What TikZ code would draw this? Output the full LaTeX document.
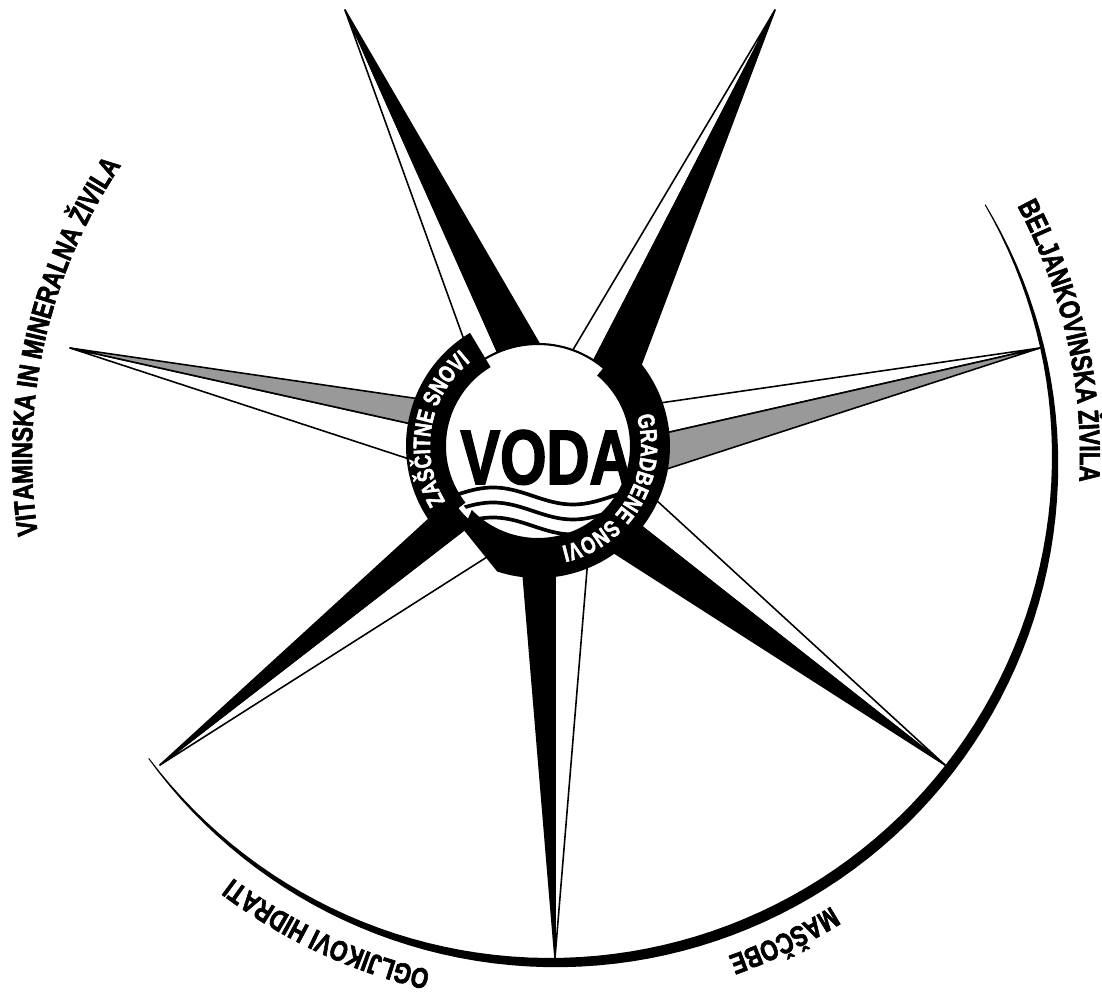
\documentclass[tikz,border=0pt]{standalone}
\usepackage{fontspec}
\newfontfamily\condfont[FakeStretch=0.78,FakeBold=2]{Liberation Sans Bold}
\newfontfamily\vodafont[FakeStretch=0.77,FakeBold=2]{Liberation Sans Bold}
\usetikzlibrary{calc,decorations.text}

\begin{document}
\begin{tikzpicture}[
    rayline/.style={draw=black, line width=0.9pt, line join=round},
    ringtext/.style={decorate, decoration={text along path, text align=center,
        text={|\condfont\fontsize{13.5}{14}\selectfont\color{white}|#1}}},
    outertext/.style={decorate, decoration={text along path, text align=center,
        text={|\condfont\fontsize{16.4}{17}\selectfont|#1}}},
    wave/.style={line width=2.1pt}
]
\useasboundingbox (-10.76,-10.98) rectangle (11.28,8.92);
\coordinate (O) at (0,0);
\coordinate (M) at (0.24,-0.20); % centre of the outer arc

% rays: tip / filled base / axis base / open base / colour
\foreach \tx/\ty/\fx/\fy/\ax/\ay/\wx/\wy/\col in {
    -3.86/8.72/-0.10/2.26/-0.96/2.22/-1.50/2.18/black,
    4.74/8.72/2.30/2.26/1.40/2.26/0.90/2.26/black,
    -9.36/1.96/-2.50/0.96/-2.62/0.46/-2.70/-0.22/gray!80,
    10.04/1.96/2.70/-0.42/2.64/0.28/2.44/0.86/gray!80,
    -7.56/-6.38/-2.42/-1.68/-1.56/-1.74/-1.02/-2.22/black,
    8.14/-6.38/1.84/-2.34/2.24/-1.74/2.58/-1.28/black,
    0.34/-10.24/-0.30/-2.54/0.34/-2.54/0.98/-2.48/black}{
  \coordinate (T) at (\tx,\ty);
  \coordinate (F) at (\fx,\fy);
  \coordinate (A) at (\ax,\ay);
  \coordinate (W) at (\wx,\wy);
  \filldraw[fill=white, rayline] (T) -- ($(T)!1.25!(W)$) -- ($(T)!1.25!(A)$) -- cycle;
  \filldraw[fill=\col, rayline] (T) -- ($(T)!1.25!(F)$) -- ($(T)!1.25!(A)$) -- cycle;
}

% outer arc, thick at the bottom
\fill plot[domain=30:-143, samples=90]
    ({0.24+(10.06+0.2*sin((30-\x)*1.0405))*cos(\x)}, {-0.2+(10.06+0.2*sin((30-\x)*1.0405))*sin(\x)})
  -- plot[domain=-143:30, samples=90] ({0.24+10.04*cos(\x)}, {-0.2+10.04*sin(\x)}) -- cycle;

% disk and ring
\filldraw[fill=white, line width=1.2pt] (O) circle (2.04);
\fill (50:1.84) arc[start angle=50, end angle=-136, radius=1.84]
  -- (-131.8:2.24) -- (-108:2.64) arc[start angle=-108, end angle=50, radius=2.64] -- cycle;
\fill (121:1.84) arc[start angle=121, end angle=218, radius=1.84]
  -- (218:2.64) arc[start angle=218, end angle=121, radius=2.64] -- cycle;

\begin{scope}
  \clip (0.08,-0.08) circle (1.92);
  \foreach \wy in {-1.0,-1.3,-1.6}
    \draw[wave] plot[domain=-2.1:2.3, samples=60, smooth] (\x, {\wy+0.17*cos(360*(\x+0.9)/3.2)});
\end{scope}

\node[font=\vodafont\fontsize{44}{45}\selectfont, anchor=base, inner sep=0] (voda) at (0.17,-0.76) {VODA};

% labels on the ring
\path[ringtext={ZAŠČITNE SNOVI}] (229.8:2.16) arc[start angle=229.8, end angle=109.8, radius=2.16];
\path[ringtext={GRADBENE SNOVI}] (30:2.06) arc[start angle=30, end angle=-90, radius=2.06];

% labels outside
\path[outertext={VITAMINSKA IN MINERALNA ŽIVILA}] ($(M)+(207.3:10.36)$) arc[start angle=207.3, end angle=127.3, radius=10.36];
\path[outertext={BELJANKOVINSKA ŽIVILA}] ($(M)+(47.7:10.6)$) arc[start angle=47.7, end angle=-22.3, radius=10.6];
\path[outertext={MAŠČOBE}] ($(M)+(-34.2:10.62)$) arc[start angle=-34.2, end angle=-94.2, radius=10.62];
\path[outertext={OGLJIKOVI HIDRATI}] ($(M)+(-85:10.56)$) arc[start angle=-85, end angle=-145, radius=10.56];
\end{tikzpicture}
\end{document}
